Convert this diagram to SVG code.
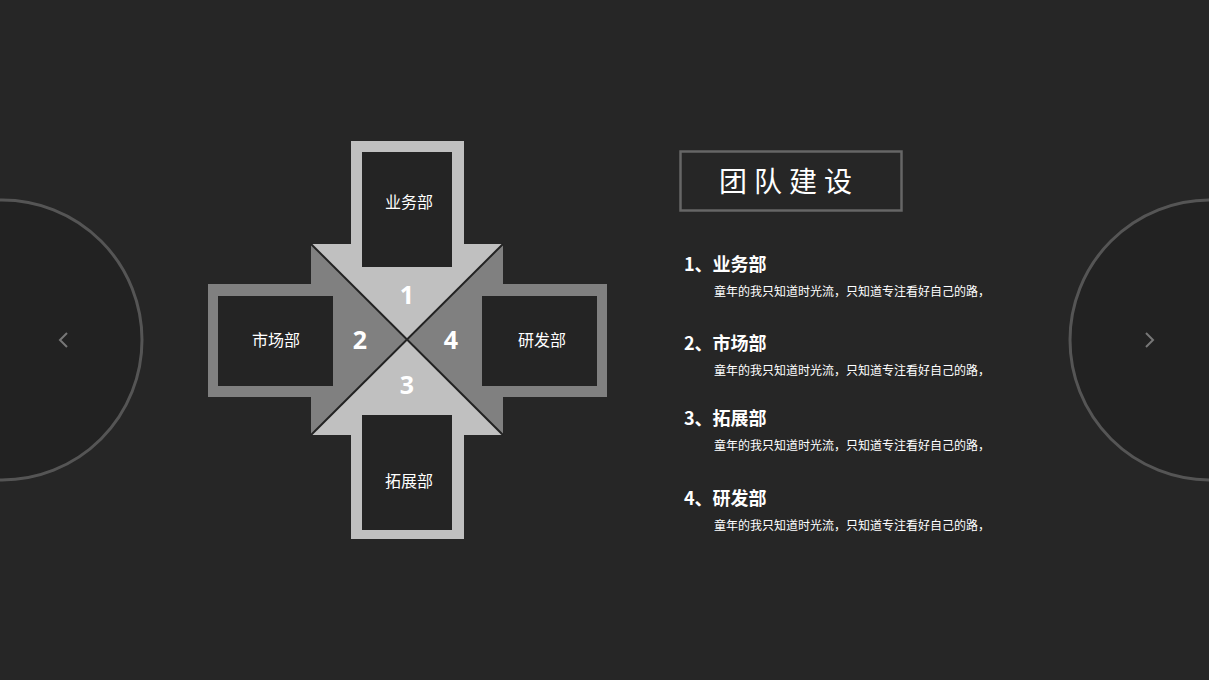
<svg xmlns="http://www.w3.org/2000/svg" width="1209" height="680" viewBox="0 0 1209 680">
<style>
.lbl{font-family:"Microsoft YaHei","Noto Sans CJK SC",sans-serif;font-size:16px;fill:#fff;text-anchor:middle;dominant-baseline:central}
.num{font-family:"Noto Sans","Liberation Sans",sans-serif;font-size:25px;font-weight:bold;fill:#fff;text-anchor:middle;dominant-baseline:central}
.hd{font-family:"Noto Sans CJK SC",sans-serif;font-size:18px;font-weight:bold;fill:#fff}
.bd{font-family:"Noto Sans CJK SC",sans-serif;font-size:12px;fill:#fff}
.dark{fill:#242424}
.nav{fill:#222;stroke:#555;stroke-width:3}
.chev{fill:none;stroke:#777;stroke-width:2}
</style>
<rect width="1209" height="680" fill="#262626"/>
<g id="nav-left">
<circle class="nav" cx="2" cy="340" r="140"/>
<polyline class="chev" points="67,333 60,340 67,347"/>
</g>
<g id="nav-right">
<circle class="nav" cx="1210" cy="340" r="140"/>
<polyline class="chev" points="1146,333 1153,340 1146,347"/>
</g>
<g id="cross">
<rect x="351" y="141" width="113" height="110" fill="#c0c0c0"/>
<rect x="351" y="430" width="113" height="109" fill="#c0c0c0"/>
<rect x="208" y="284" width="108" height="113" fill="#808080"/>
<rect x="498" y="284" width="109" height="113" fill="#808080"/>
<polygon points="311,244 503,244 407,340" fill="#c0c0c0"/>
<polygon points="311,435 503,435 407,340" fill="#c0c0c0"/>
<polygon points="311,244 311,435 407,340" fill="#808080"/>
<polygon points="503,244 503,435 407,340" fill="#808080"/>
<line x1="311" y1="244" x2="503" y2="435" stroke="#222" stroke-width="2"/>
<line x1="503" y1="244" x2="311" y2="435" stroke="#222" stroke-width="2"/>
</g>
<g id="node-yewu">
<rect class="dark" x="362" y="152" width="90" height="115"/>
<text class="lbl" x="409" y="201">业务部</text>
<text class="num" x="407" y="294">1</text>
</g>
<g id="node-shichang">
<rect class="dark" x="218" y="296" width="115" height="90"/>
<text class="lbl" x="276" y="339">市场部</text>
<text class="num" x="360" y="339">2</text>
</g>
<g id="node-tuozhan">
<rect class="dark" x="362" y="415" width="90" height="115"/>
<text class="lbl" x="409" y="480">拓展部</text>
<text class="num" x="407" y="384">3</text>
</g>
<g id="node-yanfa">
<rect class="dark" x="482" y="296" width="115" height="90"/>
<text class="lbl" x="542" y="339">研发部</text>
<text class="num" x="451" y="339">4</text>
</g>
<g id="title">
<rect x="680.5" y="151.5" width="221" height="59" fill="none" stroke="#666" stroke-width="2.5"/>
<text x="789" y="192" text-anchor="middle" style="font-family:'Noto Sans CJK SC',sans-serif;font-size:28px;fill:#fff;letter-spacing:7px">团队建设</text>
</g>
<g id="list">
<text class="hd" x="684" y="271">1、业务部</text>
<text class="bd" x="714" y="296">童年的我只知道时光流，只知道专注看好自己的路，</text>
<text class="hd" x="684" y="350">2、市场部</text>
<text class="bd" x="714" y="375">童年的我只知道时光流，只知道专注看好自己的路，</text>
<text class="hd" x="684" y="425">3、拓展部</text>
<text class="bd" x="714" y="450">童年的我只知道时光流，只知道专注看好自己的路，</text>
<text class="hd" x="684" y="505">4、研发部</text>
<text class="bd" x="714" y="530">童年的我只知道时光流，只知道专注看好自己的路，</text>
</g>
</svg>
